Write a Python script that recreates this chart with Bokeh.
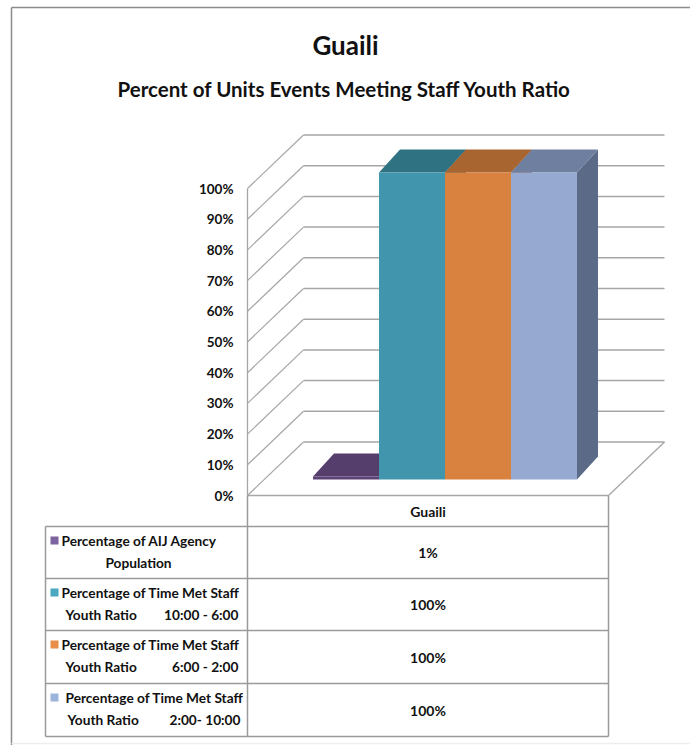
from bokeh.plotting import figure
from bokeh.models import Range1d
from bokeh.core.properties import value
from bokeh.embed import file_html
from bokeh.resources import INLINE

# ---------------- data ----------------
title = "Guaili"
subtitle = "Percent of Units Events Meeting Staff Youth Ratio"
category = "Guaili"
series_line1 = ["Percentage of AIJ Agency",
                "Percentage of Time Met Staff",
                "Percentage of Time Met Staff",
                "Percentage of Time Met Staff"]
series_line2_left = ["Population", "Youth Ratio", "Youth Ratio", "Youth Ratio"]
series_line2_right = ["", "10:00 - 6:00", "6:00 - 2:00", "2:00- 10:00"]
values = [1, 100, 100, 100]
value_labels = ["1%", "100%", "100%", "100%"]
y_ticks = [0, 10, 20, 30, 40, 50, 60, 70, 80, 90, 100]
y_tick_labels = ["0%", "10%", "20%", "30%", "40%", "50%", "60%", "70%", "80%", "90%", "100%"]

front_colors = ["#5C4276", "#4195AD", "#D9813E", "#95A9D1"]
top_colors = ["#553D6C", "#2F7382", "#A9652F", "#6F7FA0"]
side_colors = ["#47325A", "#2C6677", "#96582A", "#5B6A86"]
key_colors = ["#7D63A0", "#4AA8C0", "#E88E48", "#9DB3D9"]

# ---------------- layout helpers ----------------
W, H = 690, 745
PX_PER_PCT = 3.07       # pixels per percent on the value scale
Y0 = 495                # pixel row of the 0% front edge


def yv(px):
    """pixel row -> value-axis units"""
    return (Y0 - px) / PX_PER_PCT


p = figure(width=W, height=H, output_backend="svg", toolbar_location=None,
           x_range=Range1d(0, W), y_range=Range1d(yv(H), yv(0)),
           min_border=0)
p.axis.visible = False
p.grid.visible = False
p.outline_line_color = None
p.background_fill_color = "white"

FONT = value("Lato")
GRID = "#A6A6A6"
TXT = "#111111"

# outer chart border (left / top)
p.segment(x0=[11, 11, 11], y0=[yv(7), yv(7), yv(743)],
          x1=[W, 11, W], y1=[yv(7), yv(H), yv(743)],
          line_color=["#8C8C8C", "#8C8C8C", "#EEEEEE"], line_width=1.5)

# ---------------- 3D walls ----------------
XL, XR = 247, 608             # front floor edge
DX, DY = 56, 53.5 / PX_PER_PCT  # wall depth
back_x0, back_x1 = XL + DX, XR + DX

# back-wall gridlines
p.segment(x0=[back_x0] * len(y_ticks), y0=[t + DY for t in y_ticks],
          x1=[back_x1] * len(y_ticks), y1=[t + DY for t in y_ticks],
          line_color=GRID, line_width=1.5)
# side-wall diagonals
p.segment(x0=[XL] * len(y_ticks), y0=y_ticks,
          x1=[back_x0] * len(y_ticks), y1=[t + DY for t in y_ticks],
          line_color=GRID, line_width=1.2)
# front-left edge, floor front, floor right diagonal
p.segment(x0=[XL, XL, XR], y0=[0, 0, 0],
          x1=[XL, XR, back_x1], y1=[max(y_ticks), 0, DY],
          line_color=GRID, line_width=1.3)

# y tick labels
p.text(x=[233] * len(y_ticks), y=y_ticks, text=y_tick_labels,
       text_font=FONT, text_font_style="bold", text_font_size="13.5px",
       text_align="right", text_baseline="middle", text_color=TXT)

# ---------------- bars ----------------
BAR_W = 66
OX, OY = 17, 16 / PX_PER_PCT        # bar offset into depth
BX, BY = 21, 23 / PX_PER_PCT        # bar depth
cx = (XL + XR) / 2
n = len(values)
lefts = [cx - n * BAR_W / 2 + i * BAR_W + OX for i in range(n)]

for i, v in enumerate(values):
    l, r = lefts[i], lefts[i] + BAR_W
    b, t = OY, OY + v
    # side face
    p.patch(x=[r, r, r + BX, r + BX], y=[b, t, t + BY, b + BY],
            fill_color=side_colors[i], line_color=None)
    # top face
    p.patch(x=[l, r, r + BX, l + BX], y=[t, t, t + BY, t + BY],
            fill_color=top_colors[i], line_color=None)
    # front face
    p.quad(left=[l], right=[r], bottom=[b], top=[t],
           fill_color=front_colors[i], line_color=None)

# ---------------- data table ----------------
TL = 45
row_px = [526, 578, 630, 683, 736]
TC = "#9A9A9A"
# horizontal lines
p.segment(x0=[TL] * len(row_px), y0=[yv(r) for r in row_px],
          x1=[XR] * len(row_px), y1=[yv(r) for r in row_px],
          line_color=TC, line_width=1.5)
# verticals
p.segment(x0=[TL, XL, XR], y0=[yv(526), yv(Y0), yv(Y0)],
          x1=[TL, XL, XR], y1=[yv(736), yv(736), yv(736)],
          line_color=TC, line_width=1.5)

# header
p.text(x=[cx], y=[yv(511)], text=[category], text_font=FONT,
       text_font_style="bold", text_font_size="14px", text_align="center",
       text_baseline="middle", text_color=TXT)

# values
p.text(x=[cx] * n, y=[yv((row_px[i] + row_px[i + 1]) / 2) for i in range(n)],
       text=value_labels, text_font=FONT, text_font_style="bold",
       text_font_size="14px", text_align="center", text_baseline="middle",
       text_color=TXT)

# legend keys
line1_y = [yv(row_px[i] + 14) for i in range(n)]
line2_y = [yv(row_px[i] + 36) for i in range(n)]
p.rect(x=[54] * n, y=line1_y, width=8, height=8 / PX_PER_PCT,
       fill_color=key_colors, line_color=None)

LS = "13.7px"
# label line 1
l1_x = [61, 61, 61, 65]
p.text(x=l1_x, y=line1_y, text=series_line1, text_font=FONT,
       text_font_style="bold", text_font_size=LS, text_align="left",
       text_baseline="middle", text_color=TXT)
# label line 2
p.text(x=[138], y=[line2_y[0]], text=[series_line2_left[0]], text_font=FONT,
       text_font_style="bold", text_font_size=LS, text_align="center",
       text_baseline="middle", text_color=TXT)
p.text(x=[65, 65, 67], y=line2_y[1:], text=series_line2_left[1:], text_font=FONT,
       text_font_style="bold", text_font_size=LS, text_align="left",
       text_baseline="middle", text_color=TXT)
p.text(x=[238, 238, 240], y=line2_y[1:], text=series_line2_right[1:], text_font=FONT,
       text_font_style="bold", text_font_size=LS, text_align="right",
       text_baseline="middle", text_color=TXT)

# ---------------- titles ----------------
p.text(x=[W / 2], y=[yv(44)], text=[title], text_font=FONT,
       text_font_style="bold", text_font_size="26px", text_align="center",
       text_baseline="middle", text_color=TXT)
p.text(x=[344], y=[yv(88)], text=[subtitle], text_font=FONT,
       text_font_style="bold", text_font_size="20.5px", text_align="center",
       text_baseline="middle", text_color=TXT)

open("out.html", "w").write(file_html(p, INLINE))
